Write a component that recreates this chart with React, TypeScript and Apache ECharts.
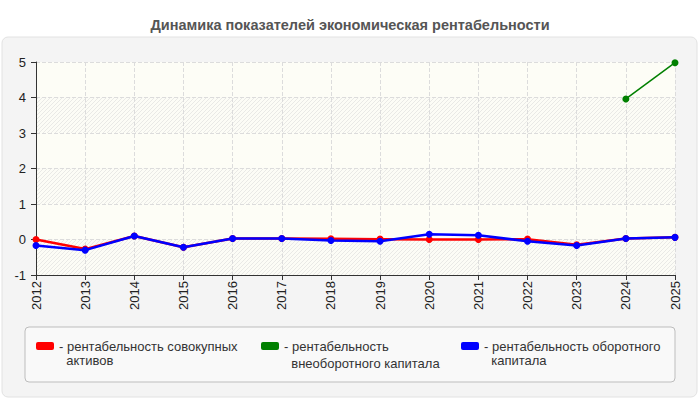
import { useEffect, useRef } from "react";
import * as echarts from "echarts";

const years = ["2012", "2013", "2014", "2015", "2016", "2017", "2018", "2019", "2020", "2021", "2022", "2023", "2024", "2025"];
const totalAssets = [0.0, -0.27, 0.1, -0.22, 0.03, 0.03, 0.02, 0.01, 0.0, 0.0, 0.01, -0.15, 0.03, 0.06];
const fixedCapital = [null, null, null, null, null, null, null, null, null, null, null, null, 3.96, 4.98];
const workingCapital = [-0.17, -0.3, 0.1, -0.22, 0.03, 0.03, -0.03, -0.05, 0.15, 0.12, -0.05, -0.17, 0.03, 0.06];

const legendLines: Record<string, string[]> = {
  "рентабельность совокупных активов": ["рентабельность совокупных", "активов"],
  "рентабельность внеоборотного капитала": ["рентабельность", "внеоборотного капитала"],
  "рентабельность оборотного капитала": ["рентабельность оборотного", "капитала"],
};

function hatch() {
  const c = document.createElement("canvas");
  c.width = 4;
  c.height = 4;
  const ctx = c.getContext("2d")!;
  ctx.fillStyle = "#fcfcf6";
  ctx.fillRect(0, 0, 4, 4);
  ctx.strokeStyle = "#e9e9e6";
  ctx.lineWidth = 1;
  ctx.beginPath();
  ctx.moveTo(0, 4);
  ctx.lineTo(4, 0);
  ctx.stroke();
  return c;
}

export default function App() {
  const chartRef = useRef<HTMLDivElement>(null);

  useEffect(() => {
    if (!chartRef.current) return;
    const chart = echarts.init(chartRef.current, null, { renderer: "svg" });
    const font = "'Liberation Sans', Arial, sans-serif";

    // an empty first line keeps the swatch level with the first text line
    const legendFor = (name: string, left: number, lineHeight: number) => ({
      left,
      top: 346 - 1.5 * lineHeight - 5,
      orient: "horizontal",
      data: [name],
      icon: "roundRect",
      itemWidth: 18,
      itemHeight: 8,
      selectedMode: false,
      formatter: (n: string) => "\n- " + legendLines[n][0] + "\n  " + legendLines[n][1],
      textStyle: { fontFamily: font, fontSize: 13, color: "#333", lineHeight },
    });

    chart.setOption({
      animation: false,
      textStyle: { fontFamily: font },
      title: {
        text: "Динамика показателей экономическая рентабельности",
        left: "center",
        top: 12,
        textStyle: { fontSize: 14.5, fontWeight: "bold", color: "#555", fontFamily: font },
      },
      graphic: [
        {
          type: "rect",
          z: -10,
          silent: true,
          shape: { x: 2, y: 37, width: 695, height: 360, r: 6 },
          style: { fill: "#f4f4f4", stroke: "#e2e2e2", lineWidth: 1 },
        },
        {
          type: "rect",
          z: -9,
          silent: true,
          shape: { x: 25, y: 327, width: 650, height: 55, r: 4 },
          style: { fill: "#f9f9f9", stroke: "#bdbdbd", lineWidth: 1 },
        },
      ],
      legend: [
        legendFor("рентабельность совокупных активов", 31, 14),
        legendFor("рентабельность внеоборотного капитала", 256, 17),
        legendFor("рентабельность оборотного капитала", 456, 14),
      ],
      grid: { left: 36, right: 25, top: 62, bottom: 125 },
      xAxis: {
        type: "category",
        data: years,
        boundaryGap: false,
        axisLine: { show: true, onZero: false, lineStyle: { color: "#333", width: 1 } },
        axisTick: { show: true, length: 5, lineStyle: { color: "#333" } },
        axisLabel: { rotate: 90, fontSize: 13, color: "#222", margin: 6 },
        splitLine: { show: true, lineStyle: { type: "dashed", color: "#dcdcdc" } },
      },
      yAxis: {
        type: "value",
        min: -1,
        max: 5,
        interval: 1,
        axisLine: { show: true, lineStyle: { color: "#333", width: 1 } },
        axisTick: { show: true, length: 5, lineStyle: { color: "#333" } },
        axisLabel: { fontSize: 13, color: "#222", margin: 10 },
        splitLine: { show: true, lineStyle: { type: "dashed", color: "#dcdcdc" } },
        splitArea: {
          show: true,
          areaStyle: { color: [{ image: hatch(), repeat: "repeat" }, "#fdfdf6"] },
        },
      },
      series: [
        {
          name: "рентабельность совокупных активов",
          type: "line",
          data: totalAssets,
          symbol: "circle",
          symbolSize: 7,
          lineStyle: { color: "#ff0000", width: 2.5 },
          itemStyle: { color: "#ff0000" },
          z: 2,
        },
        {
          name: "рентабельность внеоборотного капитала",
          type: "line",
          data: fixedCapital,
          symbol: "circle",
          symbolSize: 7,
          clip: false,
          lineStyle: { color: "#008000", width: 1.5 },
          itemStyle: { color: "#008000" },
          z: 3,
        },
        {
          name: "рентабельность оборотного капитала",
          type: "line",
          data: workingCapital,
          symbol: "circle",
          symbolSize: 7,
          lineStyle: { color: "#0000ff", width: 2.5 },
          itemStyle: { color: "#0000ff" },
          z: 4,
        },
      ],
    });

    return () => chart.dispose();
  }, []);

  return (
    <div
      ref={chartRef}
      style={{ position: "fixed", left: 0, top: 0, width: 700, height: 400, background: "#fff" }}
    />
  );
}
